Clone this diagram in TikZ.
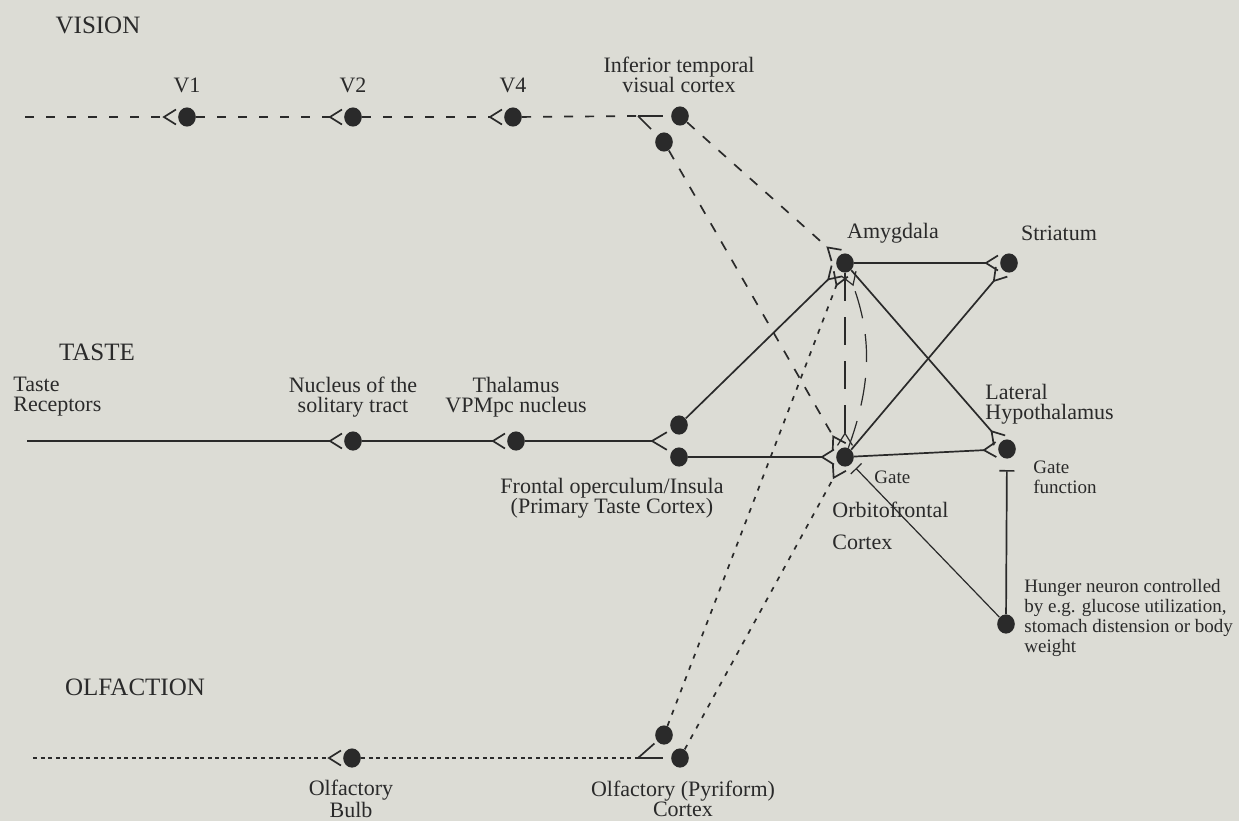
\documentclass[tikz,border=0pt]{standalone}
\usepackage{fontspec}
\setmainfont{Liberation Serif}
\usetikzlibrary{calc, positioning, arrows.meta, shapes.geometric}
\definecolor{paperGrey}{HTML}{DCDCD5}
\definecolor{inkBlack}{HTML}{2A2A2A}
\tikzset{
  cell/.style  = {ellipse, fill=inkBlack, inner sep=0pt, minimum width=8.8pt, minimum height=9.6pt},
  lbl/.style   = {text=inkBlack, inner sep=0pt, align=center, font=\fontsize{11}{10}\selectfont},
  sm/.style    = {text=inkBlack, inner sep=0pt, align=left, font=\fontsize{9.5}{10}\selectfont},
  head/.style  = {text=inkBlack, inner sep=0pt, font=\fontsize{12.5}{14}\selectfont},
  wire/.style  = {draw=inkBlack, line width=0.85pt},
  syn/.style   = {-{Straight Barb[reversed, length=6pt, width=7.5pt]}, shorten >=0.5pt},
  gate/.style  = {-{Bar[width=7.5pt]}},
  vis/.style   = {wire, dash pattern=on 4.5pt off 6pt},
  visd/.style  = {wire, dash pattern=on 5pt off 5.5pt},
  olf/.style   = {wire, dash pattern=on 2pt off 1.8pt},
  olfd/.style  = {wire, dash pattern=on 2.5pt off 3.5pt},
  longd/.style = {draw=inkBlack, line width=0.6pt, dash pattern=on 14pt off 8pt}
}
\begin{document}
\begin{tikzpicture}[x=0.5pt, y=-0.5pt]
  \fill[paperGrey] (0,0) rectangle (1239,821);
  \useasboundingbox (0,0) rectangle (1239,821);

  % headings
  \node[head] (hvis)   at (98,25)   {VISION};
  \node[head] (htaste) at (97,352)  {TASTE};
  \node[head] (holf)   at (135,687) {OLFACTION};

  % cells
  \node[cell] (v1)     at (187,117) {};
  \node[cell] (v2)     at (353,117) {};
  \node[cell] (v4)     at (513,117) {};
  \node[cell] (itA)    at (680,116) {};
  \node[cell] (itB)    at (664,142) {};
  \node[cell] (nts)    at (353,441) {};
  \node[cell] (thal)   at (516,441) {};
  \node[cell] (foA)    at (679,425) {};
  \node[cell] (foB)    at (679,457) {};
  \node[cell] (amyg)   at (845,263) {};
  \node[cell] (stri)   at (1009,263) {};
  \node[cell] (ofc)    at (845,457) {};
  \node[cell] (lh)     at (1007,449) {};
  \node[cell] (hunger) at (1006,624) {};
  \node[cell] (bulb)   at (352,758) {};
  \node[cell] (pyA)    at (664,735) {};
  \node[cell] (pyB)    at (680,758) {};

  \coordinate (visin)   at (25,117);
  \coordinate (tastein) at (27,441);
  \coordinate (olfin)   at (33,758);
  \coordinate (itfork)  at (638,116);
  \coordinate (tafork)  at (652,441);
  \coordinate (pyfork)  at (638,758);

  % labels
  \node[lbl] (lv1)  at (187,85) {V1};
  \node[lbl] (lv2)  at (353,85) {V2};
  \node[lbl] (lv4)  at (513,85) {V4};
  \node[lbl] (lit)  at (679,75) {Inferior temporal\\visual cortex};
  \node[lbl] (lamy) at (893,233) {Amygdala};
  \node[lbl] (lstr) at (1059,233) {Striatum};
  \node[lbl, anchor=west, align=left] (lrec) at (13,397) {Taste\\Receptors};
  \node[lbl] (lnts) at (353,397) {Nucleus of the\\solitary tract};
  \node[lbl] (lthl) at (516,397) {Thalamus\\VPMpc nucleus};
  \node[lbl, anchor=west, align=left] (llh) at (985,404) {Lateral\\Hypothalamus};
  \node[lbl] (lfo)  at (612,498) {Frontal operculum/Insula\\(Primary Taste Cortex)};
  \node[lbl, anchor=west, align=left] (lofc) at (832,526) {Orbitofrontal\\[6pt]Cortex};
  \node[sm, anchor=west] (lgate) at (874,477) {Gate};
  \node[sm, anchor=west] (lgfn)  at (1033,477) {Gate\\function};
  \node[sm, anchor=west] (lhun)  at (1024,618)
    {Hunger neuron controlled\\by e.g. glucose utilization,\\stomach distension or body\\weight};
  \node[lbl] (lbulb) at (351,799) {Olfactory\\Bulb};
  \node[lbl] (lpyr)  at (683,799) {Olfactory (Pyriform)\\Cortex};

  % vision
  \draw[vis, syn] (visin) -- (v1);
  \draw[vis, syn] (v1) -- (v2);
  \draw[vis, syn] (v2) -- (v4);
  \draw[vis] (v4) -- (itfork);
  \draw[wire] (itfork) -- ($(itfork)!0.6!(itA)$);
  \draw[wire] (itfork) -- ($(itfork)!0.5!(itB)$);
  \draw[visd, syn] (itA) -- (amyg);
  \draw[visd, syn] (itB) -- (ofc);

  % taste
  \draw[wire, syn] (tastein) -- (nts);
  \draw[wire, syn] (nts) -- (thal);
  \draw[wire] (thal) -- (tafork);
  \draw[wire] (tafork) -- ($(tafork)!0.55!(foA)$);
  \draw[wire] (tafork) -- ($(tafork)!0.55!(foB)$);
  \draw[wire, syn] (foA) -- (amyg);
  \draw[wire, syn] (foB) -- (ofc);

  % olfaction
  \draw[olf, syn] (olfin) -- (bulb);
  \draw[olf] (bulb) -- (pyfork);
  \draw[wire] (pyfork) -- ($(pyfork)!0.6!(pyB)$);
  \draw[wire] (pyfork) -- ($(pyfork)!0.63!(pyA)$);
  \draw[olfd, syn] (pyA) -- (amyg);
  \draw[olfd, syn] (pyB) -- (ofc);

  % amygdala / orbitofrontal outputs
  \draw[wire, syn] (amyg) -- (stri);
  \draw[wire, syn] (ofc) -- (stri);
  \draw[wire, syn] (amyg) -- (lh);
  \draw[wire, syn] (ofc) -- (lh);
  \draw[longd, syn] (amyg) -- (ofc);
  \draw[longd, syn] (ofc) to[bend right=20] (amyg);

  % hunger gating
  \draw[wire, gate, shorten >=5.5pt] (hunger) -- (lh);
  \draw[draw=inkBlack, line width=0.6pt, gate, shorten >=3pt] (hunger) -- (ofc);
\end{tikzpicture}
\end{document}
